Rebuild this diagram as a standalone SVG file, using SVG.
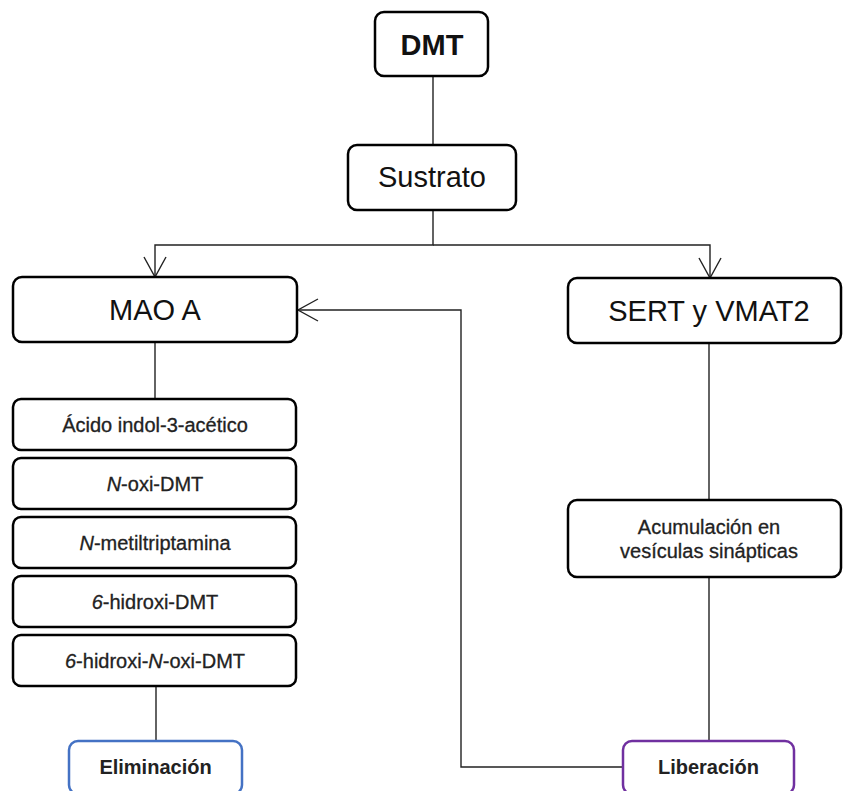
<svg xmlns="http://www.w3.org/2000/svg" width="843" height="791" viewBox="0 0 843 791">
<defs>
<style>
.node{fill:#fff;stroke:#000;stroke-width:2.5}
.big{font-family:"Liberation Sans",Arial,sans-serif;font-size:29px;fill:#111;text-anchor:middle}
.small{font-family:"Liberation Sans",Arial,sans-serif;font-size:20px;fill:#222;stroke:#222;stroke-width:0.3;text-anchor:middle}
.bold{font-weight:bold;stroke-width:0}
.conn{fill:none;stroke:#222;stroke-width:1.4}
</style>
<marker id="arr" viewBox="0 0 24 24" refX="22" refY="12" markerWidth="24" markerHeight="24" markerUnits="userSpaceOnUse" orient="auto">
<path d="M2,1 L22,12 L2,23" fill="none" stroke="#222" stroke-width="1.4"/>
</marker>
</defs>
<g id="connectors">
<path class="conn" d="M433,76 V145"/>
<path class="conn" d="M433,210 V245 H155 V277" marker-end="url(#arr)"/>
<path class="conn" d="M433,245 H710 V278" marker-end="url(#arr)"/>
<path class="conn" d="M155,342 V399"/>
<path class="conn" d="M156,687 V741"/>
<path class="conn" d="M709,343 V500"/>
<path class="conn" d="M709,577 V741"/>
<path class="conn" d="M623,767 H461 V310 H298" marker-end="url(#arr)"/>
</g>
<g id="dmt"><rect class="node" x="375" y="12" width="113" height="64" rx="9"/><text class="big bold" x="432" y="55">DMT</text></g>
<g id="sustrato"><rect class="node" x="348" y="145" width="168" height="65" rx="9"/><text class="big" x="432" y="187">Sustrato</text></g>
<g id="maoa"><rect class="node" x="13" y="277" width="284" height="65" rx="9"/><text class="big" x="155" y="320">MAO A</text></g>
<g id="sert"><rect class="node" x="568" y="278" width="273" height="65" rx="9"/><text class="big" x="709" y="321">SERT y VMAT2</text></g>
<g id="acido"><rect class="node" x="13" y="399" width="283" height="51" rx="8"/><text class="small" x="155" y="431.5">Ácido indol-3-acético</text></g>
<g id="noxi"><rect class="node" x="13" y="458" width="283" height="51" rx="8"/><text class="small" x="155" y="490.5"><tspan font-style="italic">N</tspan>-oxi-DMT</text></g>
<g id="nmetil"><rect class="node" x="13" y="517" width="283" height="51" rx="8"/><text class="small" x="155" y="549.5"><tspan font-style="italic">N</tspan>-metiltriptamina</text></g>
<g id="hidroxi"><rect class="node" x="13" y="576" width="283" height="51" rx="8"/><text class="small" x="155" y="608.5"><tspan font-style="italic">6</tspan>-hidroxi-DMT</text></g>
<g id="hidroxinoxi"><rect class="node" x="13" y="635" width="283" height="51" rx="8"/><text class="small" x="155" y="667.5"><tspan font-style="italic">6</tspan>-hidroxi-<tspan font-style="italic">N</tspan>-oxi-DMT</text></g>
<g id="acumulacion"><rect class="node" x="568" y="500" width="273" height="77" rx="9"/><text class="small" x="709" y="534">Acumulación en</text><text class="small" x="709" y="558">vesículas sinápticas</text></g>
<g id="eliminacion"><rect class="node" style="stroke:#4472C4" x="69" y="741" width="173" height="53" rx="9"/><text class="small bold" x="155.5" y="774">Eliminación</text></g>
<g id="liberacion"><rect class="node" style="stroke:#7030A0" x="623" y="741" width="171" height="53" rx="9"/><text class="small bold" x="708.5" y="774">Liberación</text></g>
</svg>
